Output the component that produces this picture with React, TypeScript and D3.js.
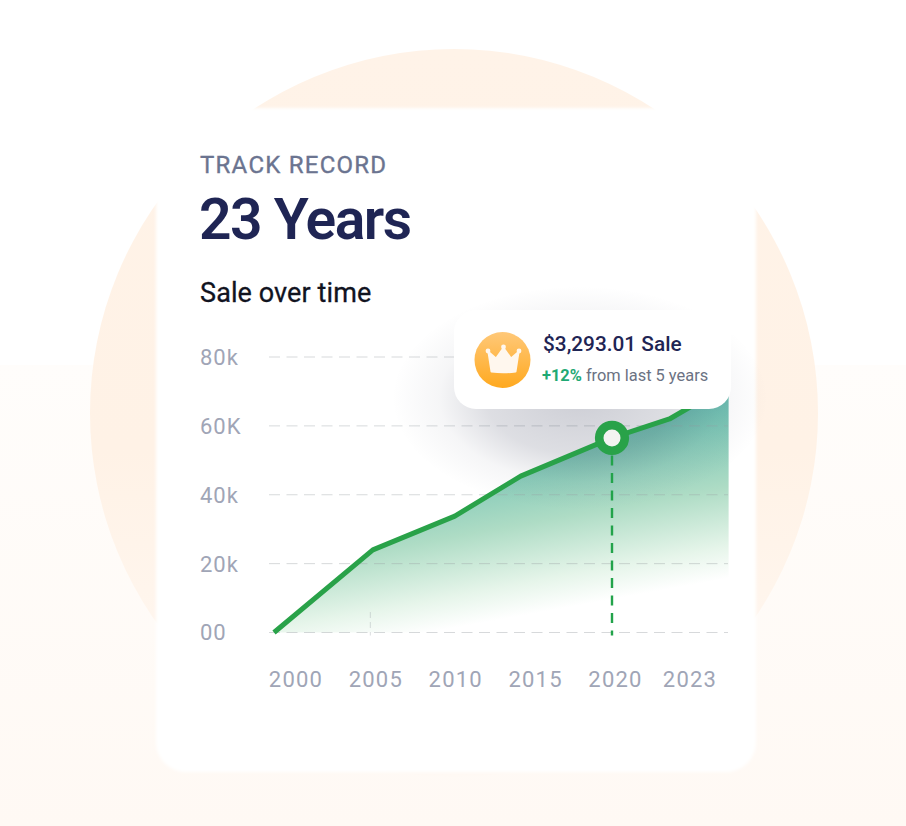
import React from "react";
import * as d3 from "d3";

// Data
const lineYears = [2000, 2005.85, 2010.7, 2014.6, 2020, 2023.4, 2026.9];
const lineValues = [0, 24000, 33800, 45400, 56500, 62000, 72000];
const yTicks = [0, 20000, 40000, 60000, 80000];
const yTickLabels = ["00", "20k", "40k", "60K", "80k"];
const xTickYears = [2000, 2005, 2010, 2015, 2020, 2023];
const highlightYear = 2020;
const highlightValue = 56500;
const minorGuideYear = 2005.7;

const W = 906;
const H = 826;
const font = "Roboto, sans-serif";

const x = d3.scaleLinear().domain([2000, 2020]).range([274, 612]);
const y = d3.scaleLinear().domain([0, 80000]).range([632.5, 357]);
const xLabel = d3.scaleLinear().domain([2000, 2020, 2023]).range([296, 615.5, 690]);

const pts = lineYears.map((yr, i) => ({ yr, v: lineValues[i] }));
const linePath = d3.line<{ yr: number; v: number }>().x((d) => x(d.yr)).y((d) => y(d.v))(pts) as string;
const areaPath = d3
  .area<{ yr: number; v: number }>()
  .x((d) => x(d.yr))
  .y0(y(0))
  .y1((d) => y(d.v))(pts) as string;

export default function App() {
  return (
    <svg
      width={W}
      height={H}
      viewBox={`0 0 ${W} ${H}`}
      style={{ position: "absolute", left: 0, top: 0, display: "block", fontFamily: font }}
    >
      <defs>
        <linearGradient id="page" gradientUnits="userSpaceOnUse" x1="0" y1="365" x2="0" y2="826">
          <stop offset="0" stopColor="#fffdfb" />
          <stop offset="1" stopColor="#fff9f4" />
        </linearGradient>
        <linearGradient id="disc" gradientUnits="userSpaceOnUse" x1="0" y1="50" x2="0" y2="776">
          <stop offset="0" stopColor="#fff3e8" />
          <stop offset="0.55" stopColor="#fff2e6" />
          <stop offset="1" stopColor="#fff9f4" />
        </linearGradient>
        <linearGradient id="areaFill" gradientUnits="userSpaceOnUse" x1="575" y1="606" x2="535" y2="385">
          <stop offset="0" stopColor="#ffffff" stopOpacity="1" />
          <stop offset="0.14" stopColor="#e6f5ea" />
          <stop offset="0.4" stopColor="#aedcc5" />
          <stop offset="0.7" stopColor="#78c4b4" />
          <stop offset="1" stopColor="#49a6a6" />
        </linearGradient>
        <linearGradient id="badge" x1="0" y1="0" x2="0" y2="1">
          <stop offset="0" stopColor="#ffc878" />
          <stop offset="1" stopColor="#ffa91f" />
        </linearGradient>
        <radialGradient id="tipShade">
          <stop offset="0" stopColor="#2e3350" stopOpacity="0.24" />
          <stop offset="0.5" stopColor="#2e3350" stopOpacity="0.16" />
          <stop offset="0.75" stopColor="#2e3350" stopOpacity="0.045" />
          <stop offset="1" stopColor="#2e3350" stopOpacity="0" />
        </radialGradient>
        <filter id="cardGlow" x="-10%" y="-10%" width="120%" height="120%">
          <feGaussianBlur stdDeviation="1.5" />
        </filter>
      </defs>

      <rect width={W} height={H} fill="#ffffff" />
      <rect y={365} width={W} height={H - 365} fill="url(#page)" />
      <circle cx={454} cy={413} r={364} fill="url(#disc)" />
      <rect x={156} y={108} width={600} height={664} rx={30} fill="#ffffff" filter="url(#cardGlow)" />

      <text x={200} y={173} fontSize={24} fontWeight={400} letterSpacing={1.25} fill="#6b7490" stroke="#6b7490" strokeWidth={0.35}>
        TRACK RECORD
      </text>
      <text x={199} y={239} fontSize={57} fontWeight={600} letterSpacing={-1.5} fill="#1f2554">
        23 Years
      </text>
      <text x={200} y={302} fontSize={27} fontWeight={400} letterSpacing={0.1} fill="#11131f" stroke="#11131f" strokeWidth={0.3}>
        Sale over time
      </text>

      <path d={areaPath} fill="url(#areaFill)" />

      {yTicks.map((t, i) => (
        <g key={t}>
          <line
            x1={269}
            x2={728}
            y1={y(t)}
            y2={y(t)}
            stroke="#9aa0a6"
            strokeOpacity={0.4}
            strokeWidth={1}
            strokeDasharray="11 6.5"
          />
          <text x={200} y={y(t)} dy="0.36em" fontSize={22} letterSpacing={1} fill="#a0a5b6">
            {yTickLabels[i]}
          </text>
        </g>
      ))}

      <line
        x1={x(minorGuideYear)}
        x2={x(minorGuideYear)}
        y1={612}
        y2={y(0) + 3}
        stroke="#9aa0a6"
        strokeOpacity={0.35}
        strokeDasharray="6 4"
      />

      {xTickYears.map((yr) => (
        <text
          key={yr}
          x={xLabel(yr)}
          y={686.5}
          textAnchor="middle"
          fontSize={22}
          letterSpacing={1.2}
          fill="#a0a5b6"
        >
          {yr}
        </text>
      ))}

      <ellipse cx={580} cy={398} rx={188} ry={112} fill="url(#tipShade)" />

      <line
        x1={x(highlightYear)}
        x2={x(highlightYear)}
        y1={y(highlightValue)}
        y2={y(0) + 3}
        stroke="#22a34a"
        strokeWidth={2.4}
        strokeDasharray="10 7.5"
      />
      <path d={linePath} fill="none" stroke="#29a249" strokeWidth={5} strokeLinejoin="round" />

      <rect x={454} y={310} width={277} height={99} rx={22} fill="#ffffff" />
      <circle cx={502.5} cy={360} r={28} fill="url(#badge)" />
      <path
        d="M488.5 352 L496 358.5 L503.5 348 L511 358.5 L518.5 352 L515.5 371.5 Q503 373 491.5 371.5 Z"
        fill="#fff7ee"
        stroke="#fff7ee"
        strokeWidth={2}
        strokeLinejoin="round"
      />
      <circle cx={488} cy={351} r={2.4} fill="#fff7ee" />
      <circle cx={503.5} cy={347} r={2.4} fill="#fff7ee" />
      <circle cx={519} cy={351} r={2.4} fill="#fff7ee" />

      <text x={543} y={351} fontSize={20.8} fontWeight={500} fill="#1f2554">
        $3,293.01 Sale
      </text>
      <text x={542} y={381} fontSize={16.4}>
        <tspan fontWeight={700} fill="#1fa974">
          +12%
        </tspan>
        <tspan fill="#6b7283"> from last 5 years</tspan>
      </text>

      <circle
        cx={x(highlightYear)}
        cy={y(highlightValue)}
        r={12.8}
        fill="#f3f3f1"
        stroke="#29a249"
        strokeWidth={8.6}
      />
    </svg>
  );
}
